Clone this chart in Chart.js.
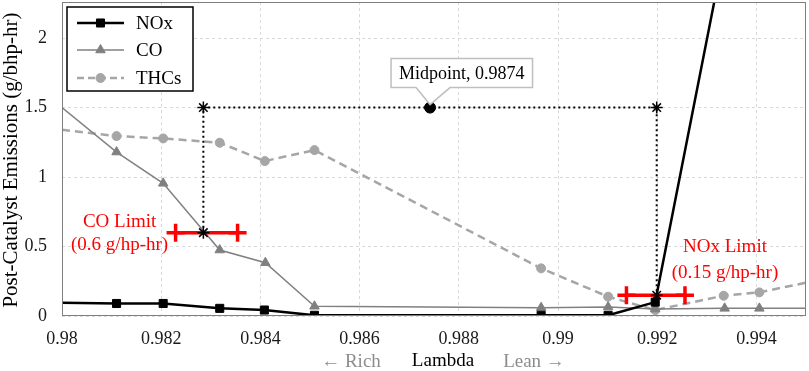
<!DOCTYPE html>
<html>
<head>
<meta charset="utf-8">
<script src="https://cdn.jsdelivr.net/npm/chart.js@4.4.1/dist/chart.umd.min.js"></script>
<style>
  html, body { margin: 0; padding: 0; background: #fff; }
  #wrap { width: 809px; height: 371px; }
</style>
</head>
<body>
<div id="wrap"><canvas id="emissions" width="809" height="371"></canvas></div>
<script>
// data
var noxLambda = [0.98, 0.9811, 0.98204, 0.98318, 0.98408, 0.98509, 0.98966, 0.99101, 0.99196, 0.99315];
var noxValues = [0.095, 0.09, 0.09, 0.055, 0.043, 0.005, 0.005, 0.005, 0.1, 2.26];

var coLambda = [0.98, 0.9811, 0.98204, 0.98318, 0.9841, 0.98509, 0.98966, 0.99101, 0.99196, 0.99336, 0.99406, 0.995];
var coValues = [1.5, 1.18, 0.955, 0.475, 0.383, 0.07, 0.06, 0.065, 0.05, 0.055, 0.055, 0.055];

var thcLambda = [0.98, 0.9811, 0.98204, 0.98318, 0.98409, 0.98509, 0.98966, 0.99101, 0.99196, 0.99334, 0.99406, 0.995];
var thcValues = [1.34, 1.295, 1.278, 1.247, 1.115, 1.194, 0.343, 0.139, 0.043, 0.146, 0.17, 0.24];

var guideLambda = [0.98285, 0.98285, 0.99199, 0.99199];
var guideValues = [0.6, 1.5, 1.5, 0.15];

var midLambda = [0.98742];
var midValues = [1.5];

var coLimitLambda = [0.98229, 0.98354];
var coLimitValue = 0.6;
var noxLimitLambda = [0.99138, 0.99256];
var noxLimitValue = 0.15;

var xTicks = [0.98, 0.982, 0.984, 0.986, 0.988, 0.99, 0.992, 0.994];
var yTicks = [0, 0.5, 1, 1.5, 2];

var serif = '"Liberation Serif", "Times New Roman", serif';

function pts(xs, ys) {
  return xs.map(function (x, i) { return { x: x, y: ys[i] }; });
}
function flat(xs, v) {
  return xs.map(function (x) { return { x: x, y: v }; });
}
// no marker where the line just runs out of the plot
function edgeRadius(r) {
  return function (c) {
    var p = c.raw;
    if (!p) return r;
    return (p.x <= 0.98 || p.x >= 0.995 || p.y >= 2.26) ? 0 : r;
  };
}
function noPad(scale) {
  scale.paddingTop = 0;
  scale.paddingBottom = 0;
  scale.paddingLeft = 0;
  scale.paddingRight = 0;
}

var overlay = {
  id: 'overlay',
  afterDraw: function (chart) {
    var ctx = chart.ctx, a = chart.chartArea;
    var xs = chart.scales.x, ys = chart.scales.y;
    ctx.save();

    // plot frame
    ctx.strokeStyle = '#7f7f7f';
    ctx.lineWidth = 1;
    ctx.setLineDash([]);
    ctx.strokeRect(a.left + 0.5, a.top + 0.5, a.right - a.left - 1, a.bottom - a.top - 1);

    // legend box
    ctx.fillStyle = '#fff';
    ctx.fillRect(67, 7, 126, 84);
    ctx.strokeStyle = '#000';
    ctx.lineWidth = 1.5;
    ctx.strokeRect(67, 7, 126, 84);
    var rows = [
      { label: 'NOx', color: '#000', width: 2.5, dash: [], style: 'rect', r: 5.7, y: 23 },
      { label: 'CO', color: '#808080', width: 1.5, dash: [], style: 'triangle', r: 5.5, y: 50 },
      { label: 'THCs', color: '#a6a6a6', width: 2.5, dash: [7, 4], style: 'circle', r: 4.5, y: 78 }
    ];
    ctx.font = '19px ' + serif;
    ctx.textBaseline = 'middle';
    ctx.textAlign = 'left';
    rows.forEach(function (row) {
      ctx.strokeStyle = row.color;
      ctx.lineWidth = row.width;
      ctx.setLineDash(row.dash);
      ctx.beginPath();
      ctx.moveTo(77, row.y);
      ctx.lineTo(124, row.y);
      ctx.stroke();
      ctx.setLineDash([]);
      ctx.fillStyle = row.color;
      ctx.lineWidth = 1;
      Chart.helpers.drawPoint(ctx, { pointStyle: row.style, radius: row.r, rotation: 0, borderWidth: 1 }, 100.5, row.y);
      ctx.fillStyle = '#000';
      ctx.fillText(row.label, 136, row.y + 1);
    });

    // midpoint callout
    var mx = xs.getPixelForValue(midLambda[0]);
    var my = ys.getPixelForValue(midValues[0]);
    var text = 'Midpoint, 0.9874';
    ctx.font = '18px ' + serif;
    var tw = ctx.measureText(text).width;
    var bl = mx - 39, bt = my - 49, bw = tw + 16, bh = 29;
    ctx.fillStyle = '#fff';
    ctx.strokeStyle = '#bfbfbf';
    ctx.lineWidth = 1.5;
    ctx.beginPath();
    ctx.moveTo(bl, bt);
    ctx.lineTo(bl + bw, bt);
    ctx.lineTo(bl + bw, bt + bh);
    ctx.lineTo(mx + 20, bt + bh);
    ctx.lineTo(mx, my - 3);
    ctx.lineTo(mx - 14, bt + bh);
    ctx.lineTo(bl, bt + bh);
    ctx.closePath();
    ctx.fill();
    ctx.stroke();
    ctx.fillStyle = '#000';
    ctx.textAlign = 'left';
    ctx.fillText(text, bl + 8, bt + bh / 2 + 1);

    // red limit labels
    ctx.fillStyle = '#ff0000';
    ctx.font = '19px ' + serif;
    ctx.textAlign = 'center';
    var cx = xs.getPixelForValue(coLimitLambda[0]), cy = ys.getPixelForValue(coLimitValue);
    ctx.fillText('CO Limit', cx - 56, cy - 11);
    ctx.fillText('(0.6 g/hp-hr)', cx - 56, cy + 12);
    var nx = xs.getPixelForValue(noxLimitLambda[1]), ny = ys.getPixelForValue(noxLimitValue);
    ctx.fillText('NOx Limit', nx + 40, ny - 48);
    ctx.fillText('(0.15 g/hp-hr)', nx + 40, ny - 22);

    // axis titles
    ctx.font = '19px ' + serif;
    ctx.fillStyle = '#000';
    ctx.fillText('Lambda', 443, 361);
    ctx.fillStyle = '#8c8c8c';
    ctx.fillText('\u2190 Rich', 351, 362);
    ctx.fillText('Lean \u2192', 534, 362);

    ctx.translate(11, 160);
    ctx.rotate(-Math.PI / 2);
    ctx.fillStyle = '#000';
    ctx.font = '21px ' + serif;
    ctx.fillText('Post-Catalyst Emissions (g/bhp-hr)', 0, 0);
    ctx.restore();
  }
};

new Chart('emissions', {
  type: 'scatter',
  data: {
    datasets: [
      {
        label: 'guide',
        data: pts(guideLambda, guideValues),
        showLine: true,
        borderColor: '#000',
        borderWidth: 2,
        borderDash: [2, 3],
        pointStyle: 'star',
        pointRadius: 6,
        pointBorderWidth: 1.5,
        pointBorderColor: '#000'
      },
      {
        label: 'midpoint',
        data: pts(midLambda, midValues),
        pointStyle: 'circle',
        pointRadius: 5.5,
        backgroundColor: '#000',
        borderColor: '#000'
      },
      {
        label: 'CO limit',
        data: flat(coLimitLambda, coLimitValue),
        showLine: true,
        borderColor: '#ff0000',
        borderWidth: 3.5,
        pointStyle: 'cross',
        pointRadius: 9,
        pointBorderWidth: 3.5,
        pointBorderColor: '#ff0000'
      },
      {
        label: 'NOx limit',
        data: flat(noxLimitLambda, noxLimitValue),
        showLine: true,
        borderColor: '#ff0000',
        borderWidth: 3.5,
        pointStyle: 'cross',
        pointRadius: 9,
        pointBorderWidth: 3.5,
        pointBorderColor: '#ff0000'
      },
      {
        label: 'NOx',
        data: pts(noxLambda, noxValues),
        showLine: true,
        borderColor: '#000',
        backgroundColor: '#000',
        borderWidth: 2.5,
        pointStyle: 'rect',
        pointRadius: edgeRadius(5.7),
        pointBorderWidth: 1
      },
      {
        label: 'CO',
        data: pts(coLambda, coValues),
        showLine: true,
        borderColor: '#808080',
        backgroundColor: '#808080',
        borderWidth: 1.5,
        pointStyle: 'triangle',
        pointRadius: edgeRadius(5.5),
        pointBorderWidth: 1
      },
      {
        label: 'THCs',
        data: pts(thcLambda, thcValues),
        showLine: true,
        borderColor: '#a6a6a6',
        backgroundColor: '#a6a6a6',
        borderWidth: 2.5,
        borderDash: [8, 5],
        pointStyle: 'circle',
        pointRadius: edgeRadius(4.5),
        pointBorderWidth: 1,
        pointBorderColor: '#a6a6a6'
      }
    ]
  },
  options: {
    responsive: false,
    devicePixelRatio: 1,
    animation: false,
    layout: { autoPadding: false, padding: { top: 2, right: 3, left: 0, bottom: 0 } },
    plugins: {
      legend: { display: false },
      tooltip: { enabled: false }
    },
    scales: {
      x: {
        type: 'linear',
        min: 0.98,
        max: 0.995,
        afterBuildTicks: function (scale) {
          scale.ticks = xTicks.map(function (v) { return { value: v }; });
        },
        afterFit: function (scale) { scale.height = 55; noPad(scale); },
        grid: { color: '#d9d9d9', drawTicks: false },
        border: { display: false, dash: [3, 3] },
        ticks: {
          padding: 12,
          color: '#1a1a1a',
          font: { family: serif, size: 18 },
          maxRotation: 0,
          callback: function (v) { return String(+v.toFixed(3)); }
        }
      },
      y: {
        min: 0,
        max: 2.26,
        afterBuildTicks: function (scale) {
          scale.ticks = yTicks.map(function (v) { return { value: v }; });
        },
        afterFit: function (scale) { scale.width = 62; noPad(scale); },
        grid: { color: '#d9d9d9', drawTicks: false },
        border: { display: false, dash: [3, 3] },
        ticks: {
          padding: 15,
          color: '#1a1a1a',
          font: { family: serif, size: 18 },
          callback: function (v) { return String(v); }
        }
      }
    }
  },
  plugins: [overlay]
});
</script>
</body>
</html>
